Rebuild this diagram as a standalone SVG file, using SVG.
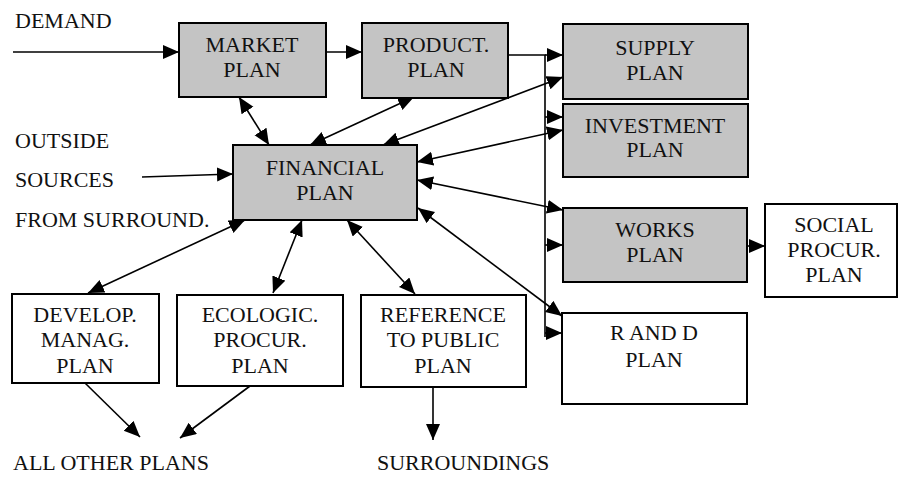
<svg xmlns="http://www.w3.org/2000/svg" width="899" height="477" viewBox="0 0 899 477" font-family="'Liberation Serif', 'DejaVu Serif', serif" font-size="22">
  <defs>
    <marker id="ah" markerUnits="userSpaceOnUse" markerWidth="17" markerHeight="15" refX="16" refY="7" orient="auto-start-reverse">
      <path d="M0,0 L16,7 L0,14 z" fill="#000"/>
    </marker>
    <style>
      text { fill: #111; }
      .c { text-anchor: middle; }
      .box { stroke: #000; stroke-width: 2; }
      .shade { fill: #c4c4c4; }
      .plain { fill: #fff; }
      .ln { stroke: #000; stroke-width: 1.6; fill: none; }
      .one { marker-end: url(#ah); }
      .two { marker-start: url(#ah); marker-end: url(#ah); }
    </style>
  </defs>
  <rect width="899" height="477" fill="#fff"/>

  <!-- free labels -->
  <text x="15" y="28">DEMAND</text>
  <text x="15" y="148">OUTSIDE</text>
  <text x="15" y="187">SOURCES</text>
  <text x="15" y="227">FROM SURROUND.</text>
  <text x="13" y="470">ALL OTHER PLANS</text>
  <text x="377" y="470">SURROUNDINGS</text>

  <!-- connectors -->
  <g id="connectors">
    <line class="ln one" x1="13" y1="52" x2="179" y2="52"/>
    <line class="ln one" x1="326" y1="52" x2="362" y2="52"/>
    <line class="ln one" x1="142" y1="177" x2="233" y2="174"/>
    <line class="ln two" x1="239" y1="97" x2="269" y2="145"/>
    <line class="ln two" x1="414" y1="97" x2="310" y2="145"/>
    <line class="ln two" x1="383" y1="145" x2="563" y2="77"/>
    <line class="ln two" x1="417" y1="162" x2="563" y2="130"/>
    <line class="ln two" x1="417" y1="180" x2="563" y2="210"/>
    <line class="ln two" x1="418" y1="208" x2="562" y2="316"/>
    <!-- distribution bus from PRODUCT. PLAN -->
    <polyline class="ln" points="508,55 545,55 545,337"/>
    <line class="ln one" x1="545" y1="55" x2="563" y2="55"/>
    <line class="ln one" x1="545" y1="117" x2="563" y2="117"/>
    <line class="ln one" x1="545" y1="245" x2="563" y2="245"/>
    <line class="ln one" x1="545" y1="333" x2="562" y2="333"/>
    <line class="ln one" x1="747" y1="246" x2="765" y2="246"/>
    <line class="ln two" x1="245" y1="220" x2="88" y2="293"/>
    <line class="ln two" x1="302" y1="220" x2="273" y2="293"/>
    <line class="ln two" x1="347" y1="220" x2="415" y2="294"/>
    <line class="ln one" x1="85" y1="383" x2="140" y2="437"/>
    <line class="ln one" x1="250" y1="386" x2="180" y2="438"/>
    <line class="ln one" x1="433" y1="387" x2="433" y2="440"/>
  </g>

  <g id="market">
    <rect class="box shade" x="179" y="23" width="147" height="74"/>
    <text class="c" x="252" y="52">MARKET</text>
    <text class="c" x="252" y="77">PLAN</text>
  </g>
  <g id="product">
    <rect class="box shade" x="362" y="23" width="146" height="75"/>
    <text class="c" x="436" y="52">PRODUCT.</text>
    <text class="c" x="436" y="77">PLAN</text>
  </g>
  <g id="financial">
    <rect class="box shade" x="233" y="145" width="184" height="75"/>
    <text class="c" x="325" y="175">FINANCIAL</text>
    <text class="c" x="325" y="200">PLAN</text>
  </g>
  <g id="supply">
    <rect class="box shade" x="563" y="24" width="185" height="75"/>
    <text class="c" x="655" y="55">SUPPLY</text>
    <text class="c" x="655" y="80">PLAN</text>
  </g>
  <g id="investment">
    <rect class="box shade" x="563" y="104" width="185" height="73"/>
    <text class="c" x="655" y="133">INVESTMENT</text>
    <text class="c" x="655" y="157">PLAN</text>
  </g>
  <g id="works">
    <rect class="box shade" x="563" y="208" width="184" height="74"/>
    <text class="c" x="655" y="237">WORKS</text>
    <text class="c" x="655" y="262">PLAN</text>
  </g>
  <g id="social">
    <rect class="box plain" x="765" y="204" width="132" height="93"/>
    <text class="c" x="834" y="232">SOCIAL</text>
    <text class="c" x="834" y="257">PROCUR.</text>
    <text class="c" x="834" y="282">PLAN</text>
  </g>
  <g id="rnd">
    <rect class="box plain" x="562" y="313" width="185" height="91"/>
    <text class="c" x="654" y="340">R AND D</text>
    <text class="c" x="654" y="367">PLAN</text>
  </g>
  <g id="develop">
    <rect class="box plain" x="12" y="294" width="147" height="89"/>
    <text class="c" x="85" y="322">DEVELOP.</text>
    <text class="c" x="85" y="347">MANAG.</text>
    <text class="c" x="85" y="373">PLAN</text>
  </g>
  <g id="ecologic">
    <rect class="box plain" x="177" y="295" width="166" height="91"/>
    <text class="c" x="260" y="322">ECOLOGIC.</text>
    <text class="c" x="260" y="347">PROCUR.</text>
    <text class="c" x="260" y="373">PLAN</text>
  </g>
  <g id="reference">
    <rect class="box plain" x="361" y="295" width="165" height="92"/>
    <text class="c" x="443" y="322">REFERENCE</text>
    <text class="c" x="443" y="347">TO PUBLIC</text>
    <text class="c" x="443" y="373">PLAN</text>
  </g>
</svg>
